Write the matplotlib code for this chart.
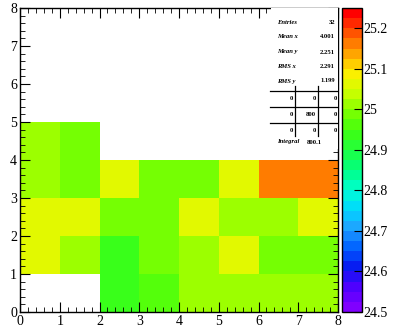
import numpy as np
import matplotlib
matplotlib.use('Agg')
import matplotlib.pyplot as plt
from matplotlib.colors import LinearSegmentedColormap
from matplotlib.ticker import MultipleLocator, FormatStrFormatter

nan = np.nan
# bin contents, one list per y row (y = 0..4), x bins 0..7
row0 = [nan, nan, 24.95, 24.96, 25.02, 25.01, 25.0, 25.02]
row1 = [25.07, 25.02, 24.95, 24.99, 25.02, 25.07, 24.985, 24.985]
row2 = [25.07, 25.07, 24.985, 24.985, 25.07, 25.01, 25.0, 25.065]
row3 = [25.01, 24.99, 25.07, 24.985, 24.985, 25.07, 25.16, 25.16]
row4 = [25.01, 24.99, nan, nan, nan, nan, nan, nan]
x_edges = np.arange(0, 9)
y_edges = np.arange(0, 6)
z_min, z_max = 24.5, 25.25
cbar_ticks = [24.5, 24.6, 24.7, 24.8, 24.9, 25.0, 25.1, 25.2]

stats_labels = ['Entries', 'Mean x', 'Mean y', 'RMS x', 'RMS y']
stats_values = ['32', '4.001', '2.251', '2.291', '1.199']
overflow = [['0', '0', '0'], ['0', '800', '0'], ['0', '0', '0']]
integral = '800.1'

# ROOT-like rainbow palette, 24.5 .. 25.25 in steps of 0.05
pal = ['#8000ff', '#5000ff', '#0818f0', '#0060ff', '#20a0ff', '#00d8ff',
       '#00ffd0', '#00ff80', '#20ff40', '#40ff10', '#80ff00', '#d0ff00',
       '#ffee00', '#ffa000', '#ff5000', '#ff0000']
cmap = LinearSegmentedColormap.from_list('root', pal).resampled(30)

plt.rcParams['font.family'] = ['Liberation Serif', 'DejaVu Serif']

fig = plt.figure(figsize=(3.93, 3.32), dpi=100)
W, H = 393, 332
ax = fig.add_axes([20 / W, 20 / H, 318 / W, 304 / H])
cax = fig.add_axes([342 / W, 20 / H, 20 / W, 304 / H])

z = np.ma.masked_invalid(np.array([row0, row1, row2, row3, row4]))
mesh = ax.pcolormesh(x_edges, y_edges, z, cmap=cmap, vmin=z_min, vmax=z_max)
ax.set_xlim(0, 8)
ax.set_ylim(0, 8)
ax.xaxis.set_major_locator(MultipleLocator(1))
ax.yaxis.set_major_locator(MultipleLocator(1))
ax.xaxis.set_minor_locator(MultipleLocator(0.2))
ax.yaxis.set_minor_locator(MultipleLocator(0.2))
ax.tick_params(which='both', direction='in', top=True, right=True, labelsize=10, pad=2)
ax.tick_params(which='major', length=7)
ax.tick_params(which='minor', length=3.5)
for s in ax.spines.values():
    s.set_linewidth(1.0)

# stats box
ax.add_patch(plt.Rectangle((0.79, 0.535), 0.21, 0.465, transform=ax.transAxes,
                           facecolor='white', edgecolor='none', zorder=3))
fs = 4.8
row_y = [23, 37, 52, 66, 81]
for lab, val, py in zip(stats_labels, stats_values, row_y):
    ax.text(277 / W, 1 - py / H, lab, transform=fig.transFigure, fontsize=fs,
            style='italic', fontweight='bold', va='center', ha='left', zorder=4)
    ax.text(335 / W, 1 - py / H, val, transform=fig.transFigure, fontsize=fs,
            fontweight='bold', va='center', ha='right', zorder=4)
for ly in [91, 107, 123]:
    ax.plot([270 / W, 337 / W], [1 - ly / H] * 2, color='black', lw=0.9,
            transform=fig.transFigure, zorder=4)
for lx in [295, 318]:
    ax.plot([lx / W] * 2, [1 - 86 / H, 1 - 136 / H], color='black', lw=0.9,
            transform=fig.transFigure, zorder=4)
for vals, py in zip(overflow, [98, 115, 131]):
    for v, px in zip(vals, [293, 316, 337]):
        ax.text(px / W, 1 - py / H, v, transform=fig.transFigure, fontsize=fs,
                fontweight='bold', va='center', ha='right', zorder=4)
ax.text(277 / W, 1 - 142 / H, 'Integral', transform=fig.transFigure, fontsize=fs,
        style='italic', fontweight='bold', va='center', ha='left', zorder=4)
ax.text(322 / W, 1 - 142 / H, integral, transform=fig.transFigure, fontsize=fs,
        fontweight='bold', va='center', ha='right', zorder=4)

cb = fig.colorbar(mesh, cax=cax)
cb.set_ticks(cbar_ticks)
cb.ax.yaxis.set_major_formatter(FormatStrFormatter('%g'))
cb.ax.tick_params(direction='in', length=6, labelsize=10, pad=1)
cb.outline.set_linewidth(1.0)

fig.savefig('out.png', dpi=100)
